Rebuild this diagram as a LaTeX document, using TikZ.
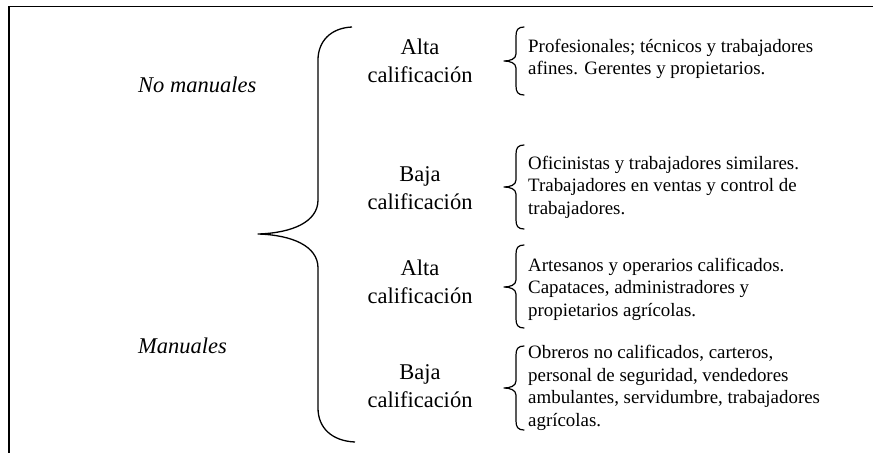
\documentclass[tikz,border=0pt]{standalone}
\usepackage{fontspec}
\setmainfont{Liberation Serif}
\tikzset{
  big/.style={font=\fontsize{22.5}{28}\selectfont, align=center, inner sep=0pt},
  cat/.style={font=\fontsize{22.5}{28}\selectfont\itshape, anchor=base west, inner sep=0pt},
  desc/.style={font=\fontsize{18.9}{22.6}\selectfont, align=left, anchor=west, inner sep=0pt},
  br/.style={line width=1.2pt, line cap=round, line join=round},
  frame/.style={line width=1.5pt},
}
\newcommand{\smallbrace}[3]{%
  \draw[br] (524,#1) .. controls (518,#1) and (516,#1+3) .. (516,#1+9)
    -- (516,#3-7) .. controls (516,#3-2) and (510,#3) .. (504,#3)
    .. controls (510,#3) and (516,#3+2) .. (516,#3+7)
    -- (516,#2-9) .. controls (516,#2-3) and (518,#2) .. (524,#2);}
\begin{document}
\begin{tikzpicture}[x=1pt,y=-1pt]
\useasboundingbox (0,0) rectangle (873,453);
\draw[frame] (873,6.5) -- (9,6.5) -- (9,453);
% big brace
\draw[line width=1.3pt, line join=round] (352,27) .. controls (330,28) and (318,42) .. (318,60)
  -- (318,200) .. controls (318,222) and (292,233) .. (258,234)
  .. controls (292,235) and (318,246) .. (318,268)
  -- (318,408) .. controls (318,428) and (332,441) .. (355,442);
\node[cat] (nm) at (138,92) {No manuales};
\node[cat] (m) at (138,353) {Manuales};
\node[big] (a1) at (420,61) {Alta\\calificación};
\node[big] (b1) at (420,188) {Baja\\calificación};
\node[big] (a2) at (420,282) {Alta\\calificación};
\node[big] (b2) at (420,386) {Baja\\calificación};
\smallbrace{27}{95}{61}
\smallbrace{145}{229}{187}
\smallbrace{245}{328}{287}
\smallbrace{346}{430}{388}
\node[desc] (d1) at (528,59) {Profesionales; técnicos y trabajadores\\afines. Gerentes y propietarios.};
\node[desc] (d2) at (528,187) {Oficinistas y trabajadores similares.\\Trabajadores en ventas y control de\\trabajadores.};
\node[desc] (d3) at (528,289) {Artesanos y operarios calificados.\\Capataces, administradores y\\propietarios agrícolas.};
\node[desc] (d4) at (528,388) {Obreros no calificados, carteros,\\personal de seguridad, vendedores\\ambulantes, servidumbre, trabajadores\\agrícolas.};
\end{tikzpicture}
\end{document}
